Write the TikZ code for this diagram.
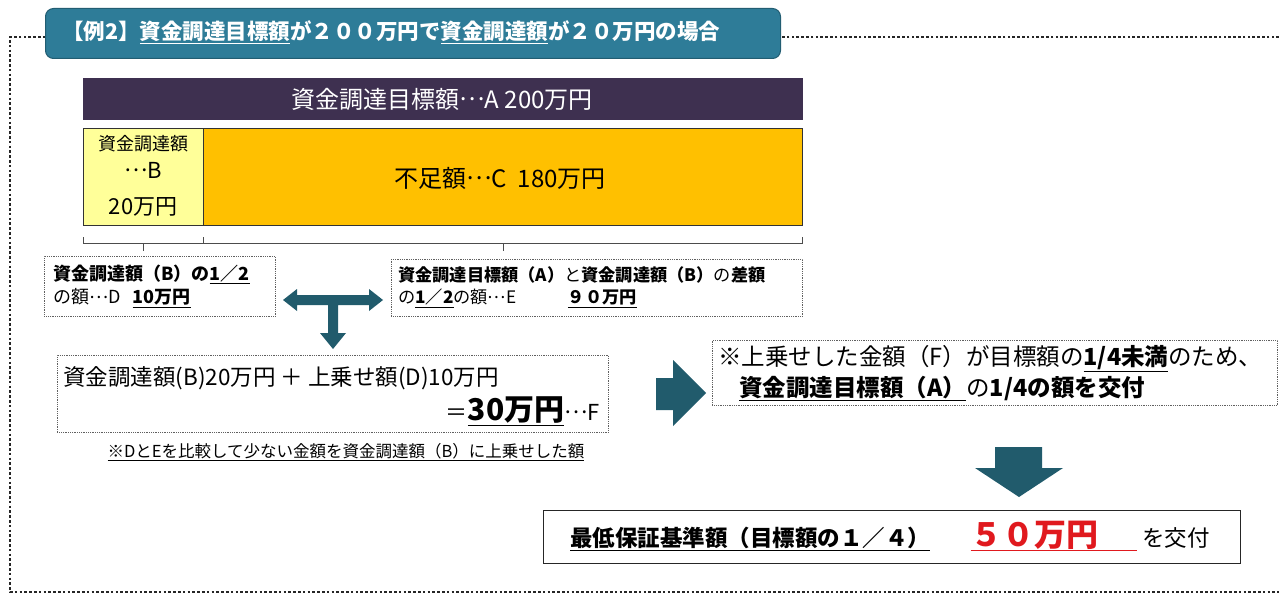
\documentclass[tikz,border=0pt]{standalone}
\usepackage{fontspec}
\setmainfont{Noto Sans CJK JP}
\definecolor{titleteal}{HTML}{2E7C98}
\definecolor{arrowteal}{HTML}{215B6C}
\definecolor{barpurple}{HTML}{3E3050}
\definecolor{orangefill}{HTML}{FFC000}
\definecolor{paleyellow}{HTML}{FFFF99}
\definecolor{redtext}{HTML}{E0191E}
\newcommand\ul[1]{\underline{#1}}
\newcommand\mdots{\raisebox{0.3em}{…}}
\newcommand\fsz[1]{\fontsize{#1}{1.3\dimexpr#1pt\relax}\selectfont}
\tikzset{
  dotbox/.style={draw=gray!75!black, densely dotted, line width=0.8pt, fill=white, inner sep=0pt, anchor=north west},
  solidbox/.style={draw=black!80, line width=0.8pt, inner sep=0pt, anchor=north west},
  blockarrow/.style={fill=arrowteal, draw=none},
  bracket/.style={draw=black!70, line width=0.8pt},
}
\begin{document}
\begin{tikzpicture}[x=1pt,y=-1pt]
\useasboundingbox (0,0) rectangle (1279,596);
\fill[white] (0,0) rectangle (1279,596);
% outer dotted frame
\draw[line width=2.6pt, dash pattern=on 2.6pt off 2.2pt, black!85] (1279,37) -- (10,37) -- (10,592) -- (1279,592);
% title
\node[fill=titleteal, draw=titleteal!75!black, line width=1pt, rounded corners=8pt, minimum width=735pt, minimum height=50pt, anchor=north west, inner sep=0pt] (title) at (45,8) {};
\node[anchor=west, text=white, font=\fsz{21.5}\bfseries, inner sep=0pt] (titletext) at (62,32) {【例2】\ul{資金調達目標額}が２００万円で\ul{資金調達額}が２０万円の場合};
% A bar
\node[solidbox, fill=barpurple, draw=barpurple, minimum width=719pt, minimum height=41pt] (A) at (83,78) {};
\node[text=white, font=\fsz{24}, inner sep=0pt] (Atext) at (442,99) {資金調達目標額\mdots A\ 200万円};
% B and C
\node[solidbox, fill=paleyellow, minimum width=120pt, minimum height=97pt] (B) at (83,128) {};
\node[solidbox, fill=orangefill, minimum width=599pt, minimum height=97pt] (C) at (203,128) {};
\node[font=\fsz{18}, inner sep=0pt] (B1) at (143,144) {資金調達額};
\node[font=\fsz{22}, inner sep=0pt] (B2) at (143,170) {\mdots B};
\node[font=\fsz{22}, inner sep=0pt] (B3) at (143,207) {20万円};
\node[font=\fsz{24}, inner sep=0pt] (Ctext) at (500,178) {不足額\mdots C\ \ 180万円};
% brackets
\coordinate (bl) at (83,243);
\coordinate (bm) at (203,243);
\coordinate (br) at (802,243);
\draw[bracket] (83,237) -- (bl) -- (br) -- (802,237);
\draw[bracket] (bm) -- (203,237);
\draw[bracket] (143,243) -- (143,251);
\draw[bracket] (503,243) -- (503,251);
% D and E boxes
\node[dotbox, minimum width=231pt, minimum height=60pt] (D) at (44,256) {};
\node[anchor=west, font=\fsz{18}, align=left, inner sep=0pt] (Dtext) at (53,286) {\textbf{資金調達額（B）の\ul{1／2}}\\の額\mdots D\ \ \ \textbf{\ul{10万円}}};
\node[dotbox, minimum width=411pt, minimum height=57pt] (E) at (391,259) {};
\node[anchor=west, font=\fsz{17.2}, align=left, inner sep=0pt] (Etext) at (398,287) {\textbf{資金調達目標額（A）}と\textbf{資金調達額（B）}の\textbf{差額}\\の\textbf{\ul{1／2}}の額\mdots E\qquad\quad\textbf{\ul{９０万円}}};
% T arrow
\fill[blockarrow] (283,300) -- (297,289) -- (297,295) -- (369,295) -- (369,289) -- (383,300) -- (369,311) -- (369,305) -- (338,305) -- (338,333) -- (346,333) -- (333,349) -- (320,333) -- (328,333) -- (328,305) -- (297,305) -- (297,311) -- cycle;
% F box
\node[dotbox, minimum width=551pt, minimum height=77pt] (F) at (57,355) {};
\node[anchor=west, font=\fsz{22.5}, inner sep=0pt] (F1) at (63,378) {資金調達額(B)20万円 ＋ 上乗せ額(D)10万円};
\node[anchor=east, font=\fsz{22}, inner sep=0pt] (F2) at (600,411) {＝\ul{\fsz{30}\textbf{30万円}}\mdots F};
\node[font=\fsz{16.5}, inner sep=0pt] (note) at (346,452) {\ul{※DとEを比較して少ない金額を資金調達額（B）に上乗せした額}};
% right arrow
\fill[blockarrow] (656,378) -- (673,378) -- (673,360) -- (706,393) -- (673,426) -- (673,410) -- (656,410) -- cycle;
% G box
\node[dotbox, minimum width=565pt, minimum height=65pt] (G) at (712,340) {};
\node[anchor=west, font=\fsz{23.5}, align=left, inner sep=0pt] (Gtext) at (718,373) {※上乗せした金額（F）が目標額の\textbf{\ul{1/4未満}}のため、\\\hspace{0.9em}\textbf{\ul{資金調達目標額（A）}}の\textbf{1/4の額を交付}};
% down arrow
\fill[blockarrow] (995,447) -- (1042,447) -- (1042,468) -- (1063,468) -- (1019,497) -- (975,468) -- (995,468) -- cycle;
% H box
\node[solidbox, draw=black!85, line width=1.2pt, minimum width=697pt, minimum height=53pt] (H) at (543,510) {};
\node[anchor=west, font=\fsz{22.5}, inner sep=0pt] (Htext) at (570,536) {\textbf{\ul{最低保証基準額（目標額の１／４）}}\hspace{1.8em}{\color{redtext}\ul{\fsz{32}\textbf{５０万円}\hspace{1.2em}}}\ を交付};
\end{tikzpicture}
\end{document}
